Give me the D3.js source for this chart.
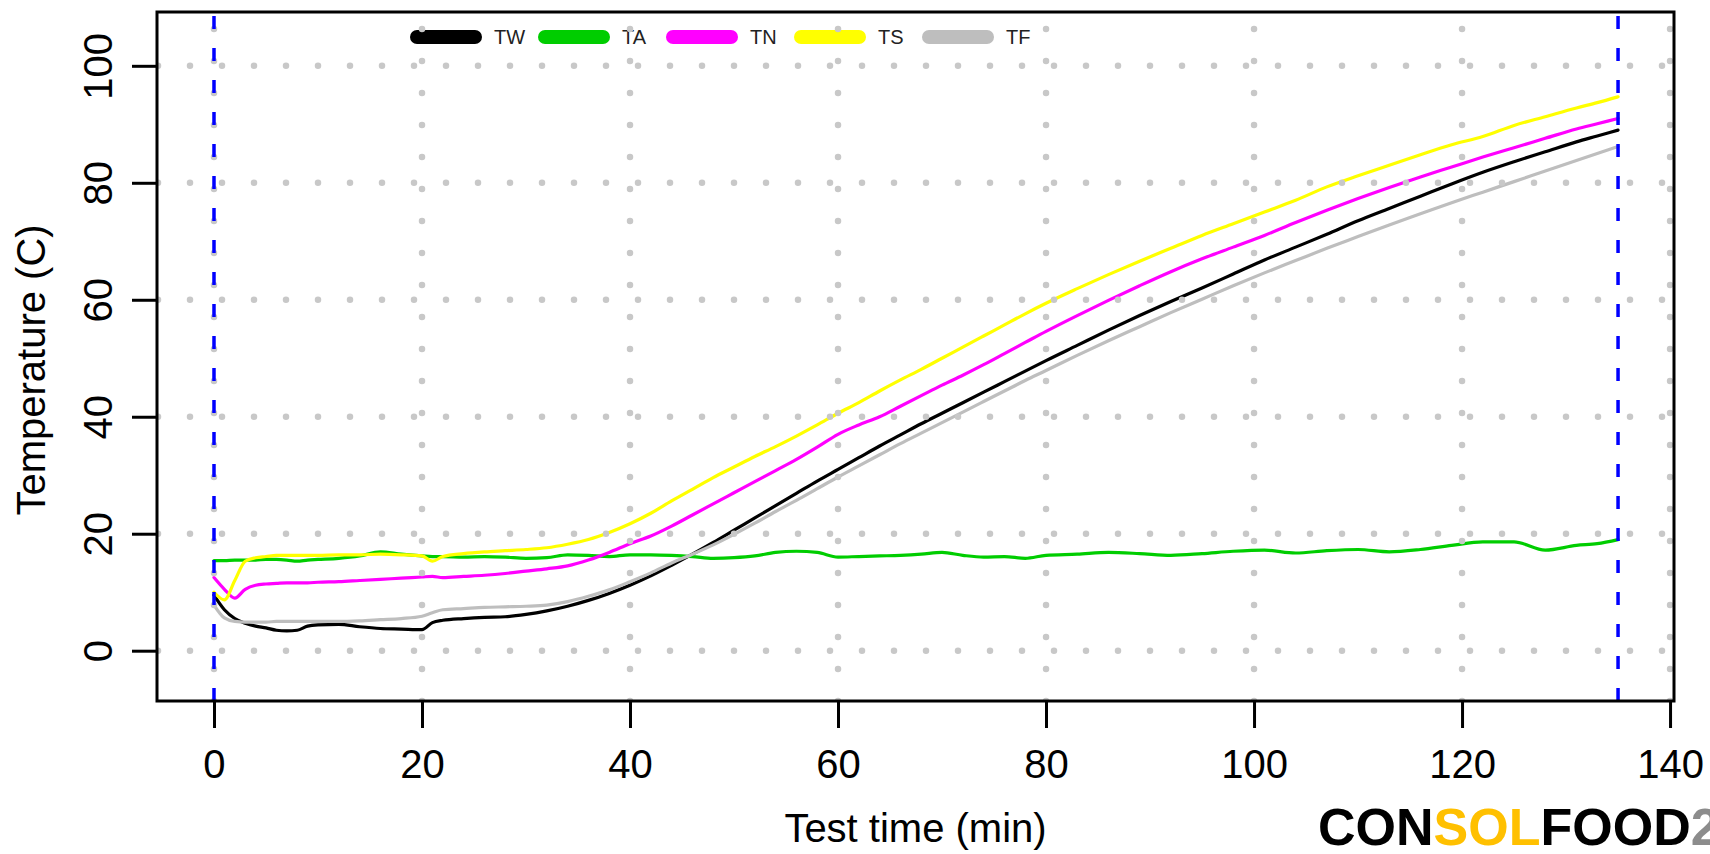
<!DOCTYPE html>
<html>
<head>
<meta charset="utf-8">
<script src="https://cdn.jsdelivr.net/npm/d3@7"></script>
<style>
  html, body { margin: 0; padding: 0; background: #ffffff; overflow: hidden; }
  svg { display: block; font-family: "Liberation Sans", Arial, Helvetica, sans-serif; }
</style>
</head>
<body>
<svg id="chart" width="1710" height="854"></svg>
<script>
// ---------- data ----------
const times = [0,1,2,3,4,5,6,7,8,9,10,12,14,16,18,20,21,22,24,26,28,30,32,34,36,38,40,42,44,46,48,50,52,54,56,58,60,62,64,66,68,70,72,74,76,78,80,83,86,89,92,95,98,101,104,107,110,113,116,119,122,125,128,131,133,135];

const TW = [9.5,7.0,5.5,4.7,4.2,3.9,3.5,3.4,3.5,4.2,4.4,4.5,4.1,3.8,3.7,3.6,4.8,5.2,5.5,5.7,5.8,6.2,6.8,7.6,8.6,9.8,11.2,12.8,14.6,16.5,18.5,20.6,22.7,24.8,26.9,29.0,31.0,33.0,35.0,36.9,38.8,40.6,42.4,44.2,46.0,47.8,49.6,52.2,54.8,57.3,59.7,62.0,64.4,66.8,69.0,71.2,73.5,75.6,77.7,79.8,81.8,83.6,85.3,87.0,88.0,89.0];

const TA = [15.4,15.4,15.5,15.5,15.5,15.6,15.6,15.5,15.3,15.5,15.6,15.8,16.2,16.9,16.5,16.2,16.1,16.1,16.0,16.1,16.0,15.8,15.9,16.4,16.3,16.1,16.4,16.4,16.3,16.1,15.8,15.9,16.2,16.8,17.0,16.8,16.0,16.1,16.2,16.3,16.5,16.8,16.3,16.0,16.1,15.8,16.3,16.5,16.8,16.6,16.3,16.6,17.0,17.2,16.7,17.1,17.3,16.9,17.3,18.0,18.6,18.6,17.2,18.0,18.3,19.0];

const TN = [12.5,10.5,9.0,10.5,11.2,11.4,11.5,11.6,11.6,11.6,11.7,11.8,12.0,12.2,12.4,12.6,12.7,12.5,12.7,12.9,13.2,13.6,14.0,14.5,15.5,16.8,18.3,19.6,21.3,23.2,25.1,27.0,28.9,30.8,32.7,34.8,37.0,38.6,40.0,41.8,43.6,45.4,47.1,48.9,50.8,52.7,54.6,57.3,59.9,62.4,64.8,67.0,69.0,71.0,73.2,75.3,77.3,79.2,81.0,82.7,84.4,86.0,87.6,89.2,90.1,91.0];

const TS = [10.0,8.7,12.0,15.3,15.9,16.1,16.3,16.3,16.3,16.3,16.3,16.4,16.4,16.5,16.4,16.2,15.3,16.1,16.6,16.9,17.1,17.3,17.6,18.2,19.0,20.2,21.7,23.5,25.6,27.6,29.6,31.4,33.2,34.9,36.7,38.6,40.6,42.4,44.4,46.3,48.1,50.0,51.9,53.8,55.7,57.6,59.4,61.9,64.3,66.6,68.8,71.0,73.0,75.0,77.0,79.3,81.2,83.0,84.8,86.5,87.9,89.8,91.3,92.8,93.7,94.7];

const TF = [7.8,5.6,5.0,4.9,4.9,4.9,5.0,5.0,5.0,5.0,5.0,5.0,5.1,5.3,5.5,5.9,6.5,7.0,7.2,7.4,7.5,7.6,7.8,8.4,9.3,10.4,11.8,13.3,15.0,16.5,18.1,19.9,21.8,23.8,25.7,27.7,29.7,31.6,33.5,35.4,37.2,39.0,40.8,42.6,44.4,46.2,47.9,50.5,53.0,55.4,57.8,60.1,62.4,64.6,66.7,68.8,70.8,72.8,74.7,76.6,78.4,80.2,82.0,83.8,85.0,86.2];

const seriesNames = ["TW", "TA", "TN", "TS", "TF"];
const seriesColors = ["#000000", "#00cd00", "#ff00ff", "#ffff00", "#bebebe"];
const seriesValues = [TW, TA, TN, TS, TF];

const xTicks = [0, 20, 40, 60, 80, 100, 120, 140];
const yTicks = [0, 20, 40, 60, 80, 100];
const markerTimes = [0, 135];

const xLabel = "Test time (min)";
const yLabel = "Temperature (C)";

// ---------- layout ----------
const plot = { left: 157, right: 1674, top: 12, bottom: 701 };
const svg = d3.select("#chart");

const x = d3.scaleLinear().domain([-5.48, 140.38]).range([plot.left, plot.right]);
const y = d3.scaleLinear().domain([-8.6, 109.2]).range([plot.bottom, plot.top]);

svg.append("defs").append("clipPath").attr("id", "clip")
  .append("rect")
  .attr("x", plot.left).attr("y", plot.top)
  .attr("width", plot.right - plot.left).attr("height", plot.bottom - plot.top);

// ---------- legend (drawn before grid, as in the original) ----------
const legend = svg.append("g");
seriesNames.forEach((name, i) => {
  const x0 = 410 + 128 * i;
  legend.append("line")
    .attr("x1", x0 + 7).attr("x2", x0 + 65)
    .attr("y1", 37).attr("y2", 37)
    .attr("stroke", seriesColors[i])
    .attr("stroke-width", 14)
    .attr("stroke-linecap", "round");
  legend.append("text")
    .attr("x", x0 + 84).attr("y", 44)
    .attr("font-size", 20)
    .attr("fill", "#222")
    .text(name);
});

// ---------- data lines ----------
const lines = svg.append("g").attr("clip-path", "url(#clip)");
const lineGen = d3.line()
  .x(d => x(d[0]))
  .y(d => y(d[1]))
  .curve(d3.curveMonotoneX);

seriesValues.forEach((vals, i) => {
  const pts = times.map((t, j) => [t, vals[j]]);
  lines.append("path")
    .attr("d", lineGen(pts))
    .attr("fill", "none")
    .attr("stroke", seriesColors[i])
    .attr("stroke-width", 3.2)
    .attr("stroke-linejoin", "round")
    .attr("stroke-linecap", "round");
});

// ---------- dotted grid ----------
const grid = svg.append("g").attr("clip-path", "url(#clip)");
xTicks.forEach(t => {
  grid.append("line")
    .attr("x1", x(t)).attr("x2", x(t))
    .attr("y1", plot.bottom).attr("y2", plot.top)
    .attr("stroke", "#c8c8c8")
    .attr("stroke-width", 6.5)
    .attr("stroke-linecap", "round")
    .attr("stroke-dasharray", "0,32");
});
yTicks.forEach(v => {
  grid.append("line")
    .attr("x1", plot.left + 1).attr("x2", plot.right)
    .attr("y1", y(v)).attr("y2", y(v))
    .attr("stroke", "#c8c8c8")
    .attr("stroke-width", 6.5)
    .attr("stroke-linecap", "round")
    .attr("stroke-dasharray", "0,32");
});

// ---------- blue dashed markers ----------
markerTimes.forEach(t => {
  grid.append("line")
    .attr("x1", x(t)).attr("x2", x(t))
    .attr("y1", plot.bottom).attr("y2", plot.top)
    .attr("stroke", "#0000ff")
    .attr("stroke-width", 3.5)
    .attr("stroke-dasharray", "13,19");
});

// ---------- axes ----------
const xAxis = svg.append("g")
  .attr("transform", `translate(0,${plot.bottom})`)
  .call(d3.axisBottom(x).tickValues(xTicks).tickSize(27).tickFormat(d3.format("d")));
xAxis.select(".domain").remove();
xAxis.selectAll(".tick line").attr("stroke", "#000").attr("stroke-width", 3);
xAxis.selectAll(".tick text")
  .attr("y", 77).attr("dy", null)
  .attr("font-size", 40)
  .attr("font-family", "Liberation Sans, Arial, sans-serif")
  .attr("fill", "#000");

const yAxis = svg.append("g")
  .attr("transform", `translate(${plot.left},0)`)
  .call(d3.axisLeft(y).tickValues(yTicks).tickSize(25).tickFormat(d3.format("d")));
yAxis.select(".domain").remove();
yAxis.selectAll(".tick line").attr("stroke", "#000").attr("stroke-width", 3);
yAxis.selectAll(".tick text")
  .attr("x", null).attr("dy", null)
  .attr("text-anchor", "middle")
  .attr("transform", "translate(-45,0) rotate(-90)")
  .attr("font-size", 40)
  .attr("font-family", "Liberation Sans, Arial, sans-serif")
  .attr("fill", "#000");

// ---------- box ----------
svg.append("rect")
  .attr("x", plot.left).attr("y", plot.top)
  .attr("width", plot.right - plot.left).attr("height", plot.bottom - plot.top)
  .attr("fill", "none")
  .attr("stroke", "#000")
  .attr("stroke-width", 3);

// ---------- axis titles ----------
svg.append("text")
  .attr("x", (plot.left + plot.right) / 2).attr("y", 842)
  .attr("text-anchor", "middle")
  .attr("font-size", 40)
  .attr("fill", "#000")
  .text(xLabel);

svg.append("text")
  .attr("transform", "translate(45,370) rotate(-90)")
  .attr("text-anchor", "middle")
  .attr("font-size", 40)
  .attr("fill", "#000")
  .text(yLabel);

// ---------- logo (cut off at the right edge, as in the reference) ----------
const logo = svg.append("text")
  .attr("x", 1318).attr("y", 845)
  .attr("font-size", 52)
  .attr("font-weight", "bold")
  .attr("font-family", "Liberation Sans, Arial, sans-serif");
logo.append("tspan").attr("fill", "#000").text("CON");
logo.append("tspan").attr("fill", "#ffc000").text("SOL");
logo.append("tspan").attr("fill", "#000").text("FOOD");
logo.append("tspan").attr("fill", "#8c8c8c").text("2020");
</script>
</body>
</html>
